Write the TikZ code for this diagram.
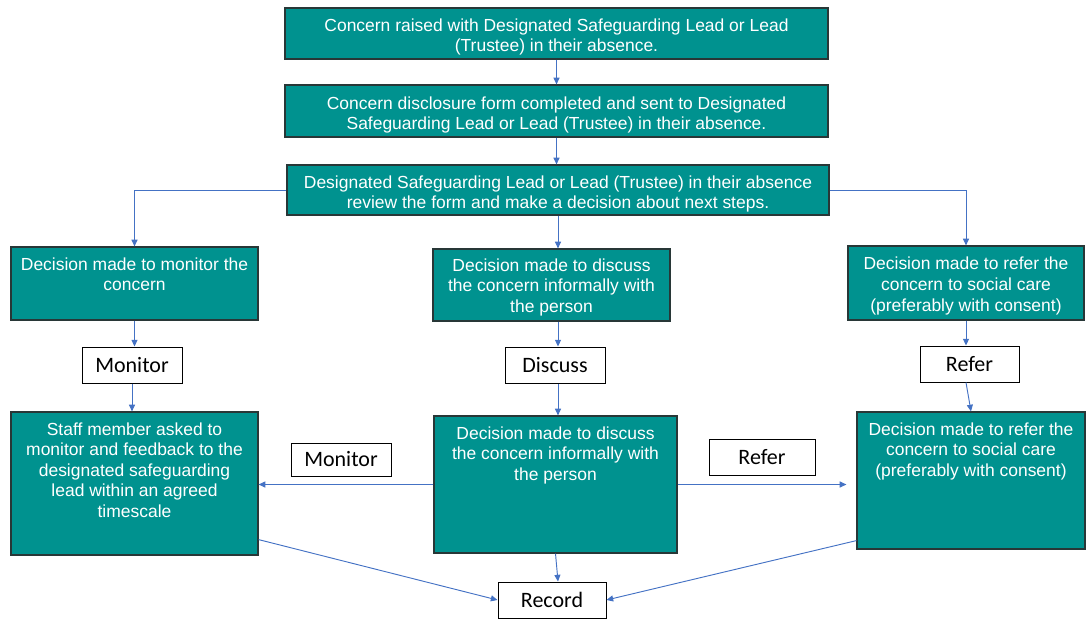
\documentclass[tikz,border=0pt]{standalone}
\usepackage{fontspec}
\setmainfont{Liberation Sans}
\newfontfamily\lblfont{Carlito}
\usetikzlibrary{arrows.meta,calc}
\definecolor{tealbox}{RGB}{0,146,143}
\definecolor{tealedge}{RGB}{40,55,55}
\definecolor{arrowblue}{RGB}{68,114,196}
\newcommand{\toptext}[3]{\parbox[c][#1][t]{#2}{\centering\rule{0pt}{17.5pt}#3}}
\newcommand{\midtext}[4]{\parbox[c][#1][c]{#2}{\centering\vspace*{#3}#4}}
\begin{document}
\begin{tikzpicture}[x=0.75pt,y=-0.75pt,
  boxbase/.style={draw=tealedge, line width=0.9pt, fill=tealbox, text=white, inner sep=0pt},
  hbox/.style={boxbase, font=\fontsize{13.1}{15.2}\selectfont},
  dbox/.style={boxbase, font=\fontsize{13.1}{15.4}\selectfont},
  lbl/.style={draw=black, line width=0.75pt, fill=white, inner sep=0pt,
    font=\lblfont\fontsize{16.5}{20}\selectfont},
  conn/.style={draw=arrowblue, line width=0.7pt, -{Triangle[length=5pt,width=4.5pt]}}]
\useasboundingbox (0,0) rectangle (1086,621);

% top chain
\node[hbox, minimum width=407.25pt, minimum height=38.25pt] (A) at (556.5,33.5)
  {\midtext{38.25pt}{405pt}{5.5pt}{Concern raised with Designated Safeguarding Lead or Lead\\(Trustee) in their absence.}};
\node[hbox, minimum width=407.25pt, minimum height=39pt] (B) at (556.5,111)
  {\midtext{39pt}{405pt}{5.5pt}{Concern disclosure form completed and sent to Designated\\Safeguarding Lead or Lead (Trustee) in their absence.}};
\node[hbox, minimum width=406.5pt, minimum height=37.5pt] (C) at (558,190)
  {\midtext{37.5pt}{404pt}{6pt}{Designated Safeguarding Lead or Lead (Trustee) in their absence\\review the form and make a decision about next steps.}};

% decisions
\node[dbox, minimum width=185.25pt, minimum height=54.75pt] (D1) at (134.5,283.5)
  {\toptext{54.75pt}{183pt}{Decision made to monitor the\\concern}};
\node[dbox, minimum width=177.75pt, minimum height=54pt] (E1) at (551.5,285)
  {\midtext{54pt}{176pt}{3.5pt}{Decision made to discuss\\the concern informally with\\the person}};
\node[dbox, minimum width=177pt, minimum height=55.5pt] (F1) at (966,283)
  {\midtext{55.5pt}{175pt}{4.5pt}{Decision made to refer the\\concern to social care\\(preferably with consent)}};

% labels
\node[lbl, minimum width=75pt, minimum height=27pt] (M1) at (132,365) {Monitor};
\node[lbl, minimum width=75pt, minimum height=27pt] (Di) at (555,365) {Discuss};
\node[lbl, minimum width=74.25pt, minimum height=27pt] (R1) at (969.5,364) {Refer};

% actions
\node[dbox, minimum width=185.25pt, minimum height=107.25pt] (D2) at (134.5,483.5)
  {\toptext{107.25pt}{183pt}{Staff member asked to\\monitor and feedback to the\\designated safeguarding\\lead within an agreed\\timescale}};
\node[dbox, minimum width=182.25pt, minimum height=102.75pt] (E2) at (555.5,484.5)
  {\toptext{102.75pt}{180pt}{Decision made to discuss\\the concern informally with\\the person}};
\node[dbox, minimum width=171pt, minimum height=102.75pt] (F2) at (971,480.5)
  {\toptext{102.75pt}{170pt}{Decision made to refer the\\concern to social care\\(preferably with consent)}};

\node[lbl, minimum width=75pt, minimum height=24.75pt] (M2) at (341,459.5) {Monitor};
\node[lbl, minimum width=79.5pt, minimum height=27pt] (R2) at (762,457) {Refer};
\node[lbl, minimum width=81pt, minimum height=27pt] (Rec) at (552,600) {Record};

% connectors
\draw[conn] (A.south) -- (A.south |- B.north);
\draw[conn] (B.south) -- (B.south |- C.north);
\draw[conn] (C.west) -| (D1.north);
\draw[conn] (C.east) -| (F1.north);
\draw[conn] (C.south) -- (C.south |- E1.north);
\draw[conn] (D1.south) -- (D1.south |- M1.north);
\draw[conn] (M1.south) -- (M1.south |- D2.north);
\draw[conn] (E1.south -| C.south) -- (Di.north -| C.south);
\draw[conn] (Di.south -| C.south) -- (E2.north -| C.south);
\draw[conn] (F1.south) -- (F1.south |- R1.north);
\draw[conn] (R1.south -| F1.south) -- (F2.north);
\draw[conn] (E2.west) -- (E2.west -| D2.east);
\draw[conn, shorten >=7.5pt] (E2.east) -- (E2.east -| F2.west);
\draw[conn] ($(D2.south east)+(0,-16)$) -- (Rec.west);
\draw[conn] (E2.south) -- ($(Rec.north)+(6,0)$);
\draw[conn] ($(F2.south west)+(0,-9)$) -- (Rec.east);
\end{tikzpicture}
\end{document}
